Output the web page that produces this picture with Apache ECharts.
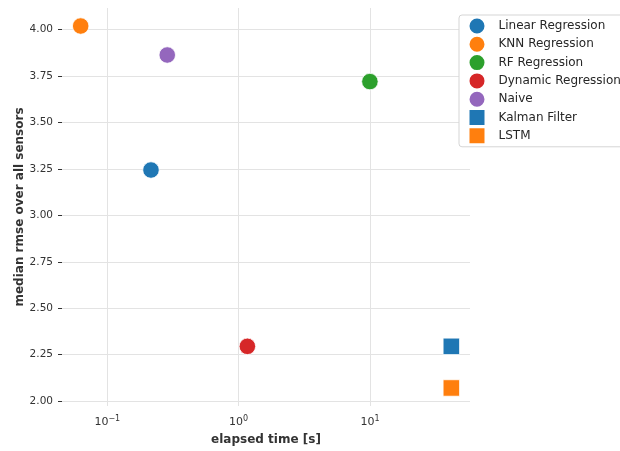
<!DOCTYPE html>
<html>
<head>
<meta charset="utf-8">
<script src="https://cdn.jsdelivr.net/npm/echarts@6/dist/echarts.min.js"></script>
<style>
  html, body { margin: 0; padding: 0; background: #fff; }
  #chart { width: 620px; height: 451px; }
</style>
</head>
<body>
<div id="chart"></div>
<script>
// Model names, one scatter series each
const methods = ['Linear Regression', 'KNN Regression', 'RF Regression',
                 'Dynamic Regression', 'Naive', 'Kalman Filter', 'LSTM'];
// Elapsed time per model, seconds
const elapsedTime = [0.215, 0.0627, 9.98, 1.165, 0.286, 41.6, 41.6];
// Median RMSE over all sensors
const medianRmse = [3.244, 4.019, 3.720, 2.295, 3.863, 2.295, 2.071];
// Y tick labels
const yTicks = [2.00, 2.25, 2.50, 2.75, 3.00, 3.25, 3.50, 3.75, 4.00];

const colors = ['#1f77b4', '#ff7f0e', '#2ca02c', '#d62728', '#9467bd', '#1f77b4', '#ff7f0e'];
const shapes = ['circle', 'circle', 'circle', 'circle', 'circle', 'rect', 'rect'];

const chart = echarts.init(document.getElementById('chart'), null, { renderer: 'canvas' });

const series = methods.map((name, i) => ({
  name: name,
  type: 'scatter',
  symbol: shapes[i],
  symbolSize: 16.5,
  itemStyle: { color: colors[i], borderColor: '#ffffff', borderWidth: 0.8, opacity: 1 },
  emphasis: { disabled: true },
  data: [[elapsedTime[i], medianRmse[i]]]
}));

const supMinus = n => (n < 0 ? '\u2212' + (-n) : String(n));

chart.setOption({
  animation: false,
  textStyle: { fontFamily: 'DejaVu Sans' },
  grid: { left: 62, right: 150, top: 8, bottom: 45, containLabel: false },
  legend: {
    orient: 'vertical',
    left: 459,
    top: 15,
    padding: [1.5, 6, 1.5, 8.5],
    itemWidth: 17,
    itemHeight: 17,
    itemGap: -0.7,
    backgroundColor: '#ffffff',
    borderColor: '#d5d5d5',
    borderWidth: 1,
    borderRadius: 3,
    textStyle: { fontSize: 12, color: '#262626', fontFamily: 'DejaVu Sans', padding: [0, 0, 0, 8] },
    data: methods
  },
  xAxis: {
    type: 'log',
    logBase: 10,
    min: 0.04519,
    max: 57.7,
    name: 'elapsed time [s]',
    nameLocation: 'middle',
    nameGap: 28,
    nameMoveOverlap: false,
    nameTextStyle: { fontSize: 12, fontWeight: 'bold', color: '#333333', fontFamily: 'DejaVu Sans' },
    axisLine: { show: false },
    axisTick: { show: false },
    splitLine: { show: true, showMinLine: false, showMaxLine: false, lineStyle: { color: '#e3e3e3', width: 1 } },
    axisLabel: {
      showMinLabel: false,
      showMaxLabel: false,
      margin: 9,
      color: '#333333',
      formatter: v => '{b|10}{s|' + supMinus(Math.round(Math.log10(v))) + '}',
      rich: {
        b: { fontSize: 11, lineHeight: 14, color: '#333333', fontFamily: 'DejaVu Sans' },
        s: { fontSize: 8, lineHeight: 8, verticalAlign: 'top', color: '#333333', fontFamily: 'DejaVu Sans' }
      }
    }
  },
  yAxis: {
    type: 'value',
    min: 1.974,
    max: 4.116,
    name: 'median rmse over all sensors',
    nameLocation: 'middle',
    nameGap: 36.5,
    nameMoveOverlap: false,
    nameTextStyle: { fontSize: 12, fontWeight: 'bold', color: '#333333', fontFamily: 'DejaVu Sans' },
    axisLine: { show: false },
    axisTick: { show: true, length: 4, customValues: yTicks, lineStyle: { color: '#333333', width: 1 } },
    splitLine: { show: true, lineStyle: { color: '#e3e3e3', width: 1 } },
    axisLabel: {
      customValues: yTicks,
      margin: 9,
      fontSize: 10.5,
      color: '#333333',
      formatter: v => Number(v).toFixed(2)
    }
  },
  series: series
});
</script>
</body>
</html>
